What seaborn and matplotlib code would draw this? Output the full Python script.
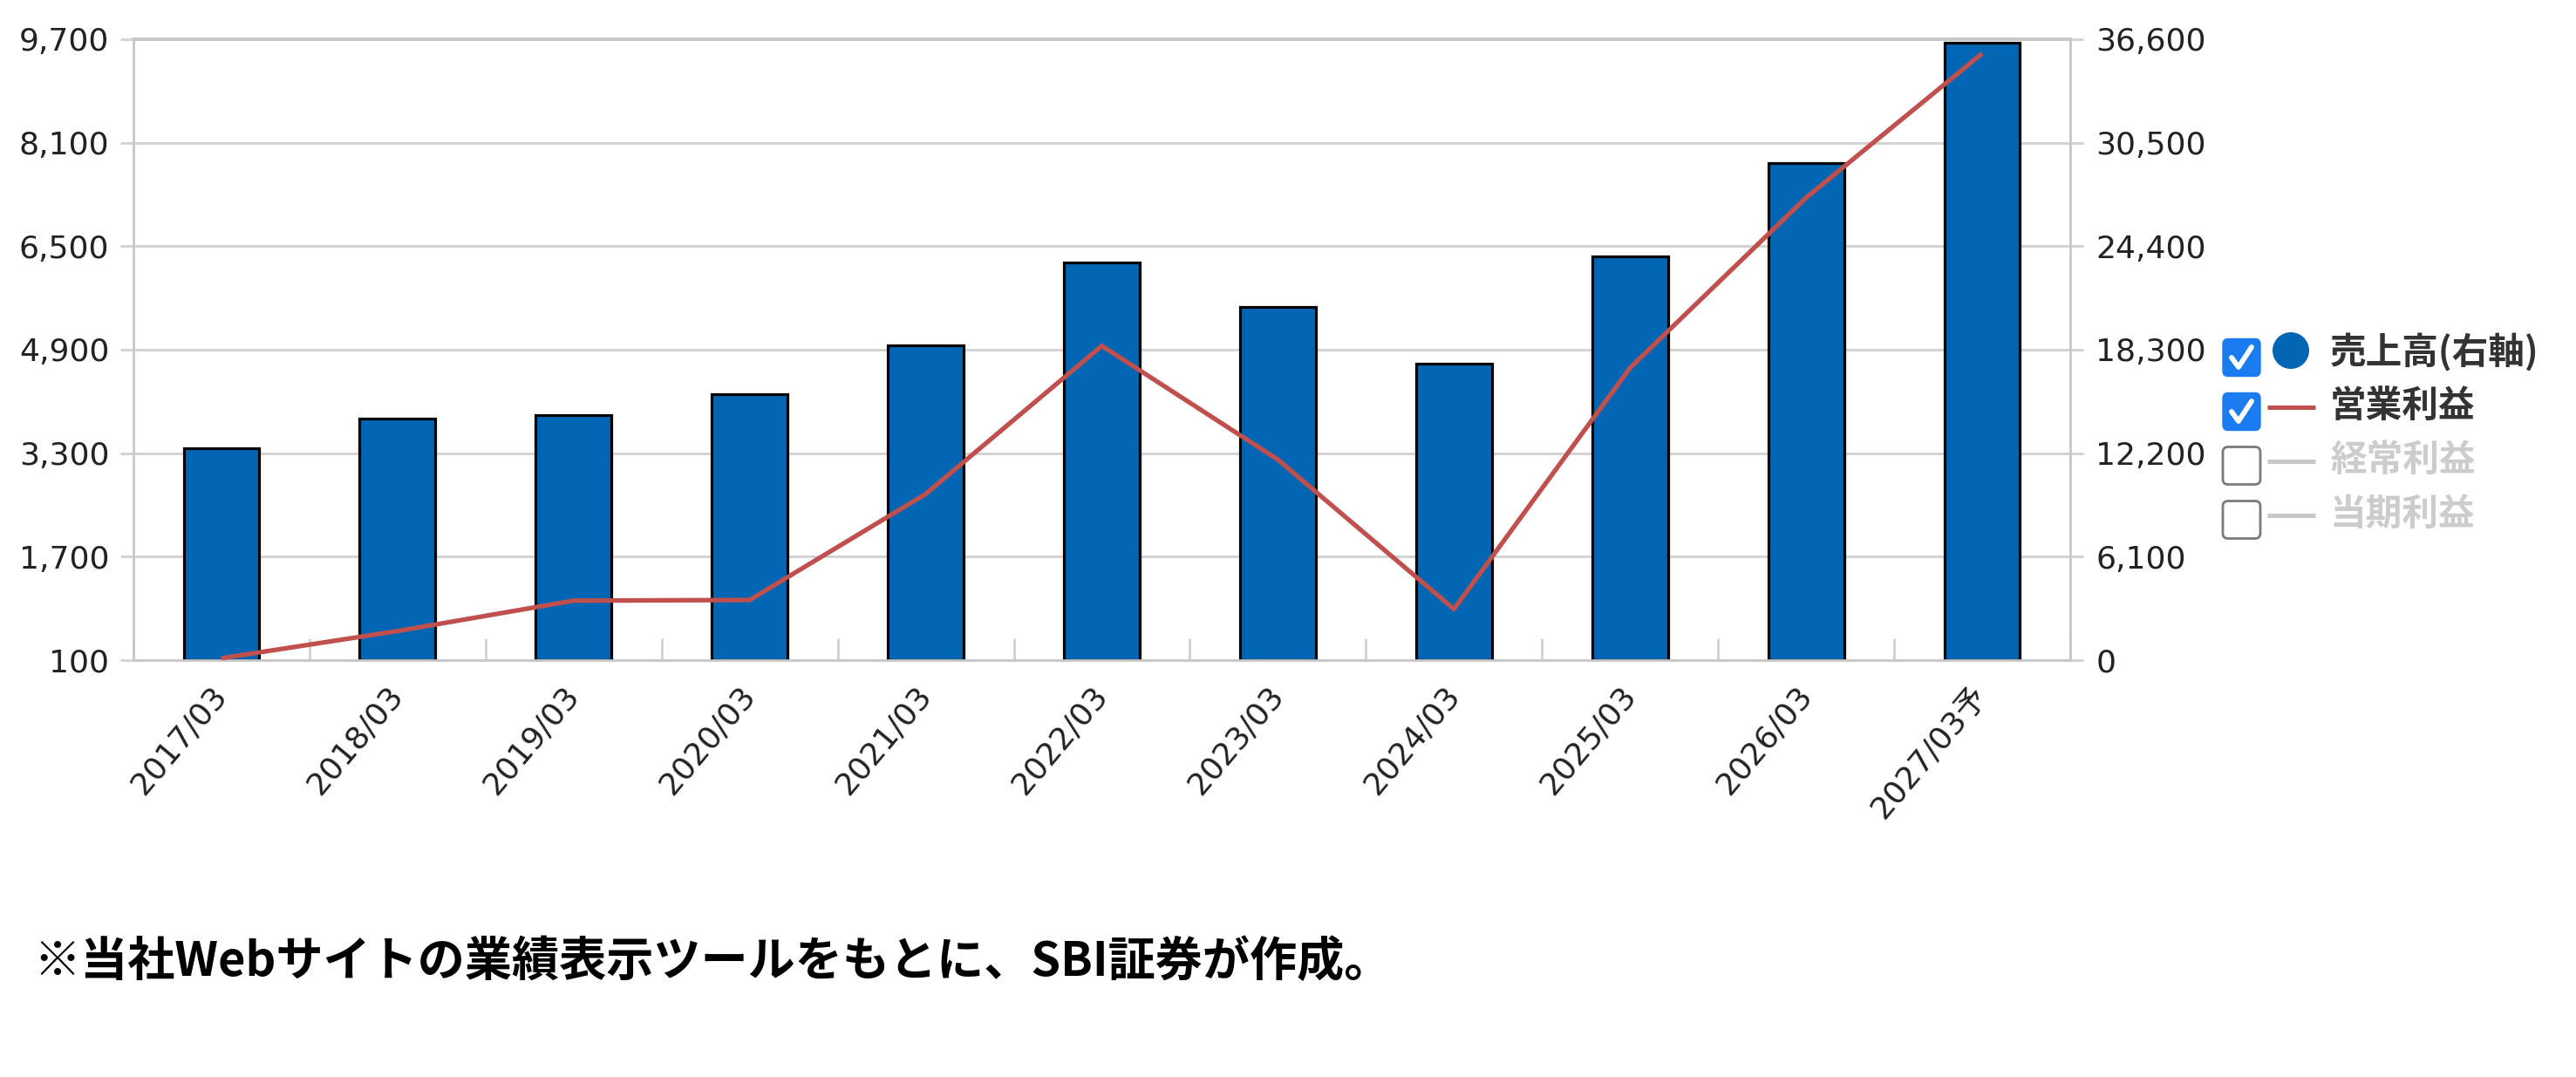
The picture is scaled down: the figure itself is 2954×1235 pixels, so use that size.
import numpy as np
import pandas as pd
import matplotlib
matplotlib.use('Agg')
import matplotlib.pyplot as plt
import seaborn as sns
from matplotlib.patches import FancyBboxPatch, Circle
from matplotlib.lines import Line2D

# ---------------- data ----------------
categories = ['2017/03', '2018/03', '2019/03', '2020/03', '2021/03', '2022/03',
              '2023/03', '2024/03', '2025/03', '2026/03', '2027/03予']
sales = [12500, 14260, 14450, 15700, 18540, 23460, 20830, 17460, 23800, 29290, 36380]
operating_profit = [130, 550, 1020, 1030, 2670, 4960, 3200, 890, 4620, 7250, 9480]
left_ticks = [100, 1700, 3300, 4900, 6500, 8100, 9700]
right_ticks = [0, 6100, 12200, 18300, 24400, 30500, 36600]
legend_labels = ['売上高(右軸)', '営業利益', '経常利益', '当期利益']
legend_active = [True, True, False, False]
footnote = '※当社Webサイトの業績表示ツールをもとに、SBI証券が作成。'

# ---------------- style ----------------
sns.set_theme(style='white')
plt.rcParams['font.family'] = ['DejaVu Sans', 'Noto Sans CJK JP']

BAR_C = '#0066B3'
LINE_C = '#C0504D'
GRID_C = '#d0d0d0'
W, H = 2954, 1235

fig = plt.figure(figsize=(W / 100, H / 100), dpi=100)
fig.patch.set_facecolor('white')
ax = fig.add_axes([153 / W, 1 - 757 / H, (2374 - 153) / W, (757 - 45) / H])
ax2 = ax.twinx()

df = pd.DataFrame({'period': categories, 'sales': sales, 'op': operating_profit,
                   'pos': np.arange(len(categories))})

sns.barplot(data=df, x='period', y='sales', ax=ax, color=BAR_C, saturation=1,
            edgecolor='black', linewidth=2.3, width=0.43, zorder=2)
sns.lineplot(data=df, x='pos', y='op', ax=ax2, color=LINE_C, linewidth=3.8,
             solid_capstyle='butt')

# axes arrangement: bars on right axis, line on left axis
ax.yaxis.tick_right()
ax2.yaxis.tick_left()
ax.set_ylim(right_ticks[0], right_ticks[-1])
ax2.set_ylim(left_ticks[0], left_ticks[-1])
ax.set_yticks(right_ticks)
ax.set_yticklabels([f'{v:,}' for v in right_ticks])
ax2.set_yticks(left_ticks)
ax2.set_yticklabels([f'{v:,}' for v in left_ticks])
ax.set_xlim(-0.5, len(categories) - 0.5)

ax.set_xlabel('')
ax.set_ylabel('')
ax2.set_xlabel('')
ax2.set_ylabel('')

ax.grid(axis='y', color=GRID_C, linewidth=2)
ax.grid(axis='x', visible=False)
ax.set_axisbelow(True)

ax.tick_params(axis='y', which='major', right=True, left=False, labelright=True,
               labelleft=False, length=11, width=2, color=GRID_C, pad=10,
               labelsize=26, labelcolor='#222222')
ax2.tick_params(axis='y', which='major', left=True, right=False, labelleft=True,
                labelright=False, length=11, width=2, color=GRID_C, pad=9,
                labelsize=26, labelcolor='#222222')
ax.tick_params(axis='x', which='major', length=0, pad=25, labelsize=26,
               labelcolor='#222222')
ax.set_xticks(np.arange(-0.5, len(categories), 1), minor=True)
ax.tick_params(axis='x', which='minor', bottom=True, direction='in', length=18,
               width=2, color=GRID_C)

for lbl in ax.get_xticklabels():
    lbl.set_rotation(50)
    lbl.set_ha('right')
    lbl.set_va('center')
    lbl.set_rotation_mode('anchor')

for s in ax.spines.values():
    s.set_color('#c8c8c8')
    s.set_linewidth(2)
ax.spines['top'].set_linewidth(2.8)
for s in ax2.spines.values():
    s.set_visible(False)

# ---------------- legend (checkbox style) ----------------
T = fig.dpi_scale_trans


def Y(px):
    return (H - px) / 100


row_y = [410, 472, 534, 596]
for i, (lab, act) in enumerate(zip(legend_labels, legend_active)):
    cy = row_y[i]
    if act:
        box = FancyBboxPatch((25.49, Y(cy) - 0.215), 0.43, 0.43,
                             boxstyle='round,pad=0,rounding_size=0.06',
                             fc='#1B7BF0', ec='#1B7BF0', lw=1, transform=T)
        fig.add_artist(box)
        fig.add_artist(Line2D([25.49 + 0.10, 25.49 + 0.18, 25.49 + 0.33],
                              [Y(cy) - 0.0, Y(cy) - 0.11, Y(cy) + 0.12],
                              color='white', lw=4.2, transform=T,
                              solid_capstyle='round', solid_joinstyle='round'))
        tcol = '#333333'
    else:
        box = FancyBboxPatch((25.49, Y(cy) - 0.215), 0.43, 0.43,
                             boxstyle='round,pad=0,rounding_size=0.06',
                             fc='white', ec='#7a7a7a', lw=2, transform=T)
        fig.add_artist(box)
        tcol = '#cccccc'
    if i == 0:
        fig.add_artist(Circle((26.27, Y(cy - 8)), 0.21, fc=BAR_C, ec='none',
                              transform=T))
    else:
        lc = LINE_C if act else '#c8c8c8'
        fig.add_artist(Line2D([26.00, 26.55], [Y(cy - 5)] * 2, color=lc, lw=3.6,
                              transform=T, solid_capstyle='butt'))
    fig.text(26.72, Y(cy - 6), lab, transform=T, fontsize=30, fontweight='bold',
             color=tcol, va='center', ha='left',
             family=['Noto Sans CJK JP', 'DejaVu Sans'])

# ---------------- footnote ----------------
fig.text(0.38, Y(1103), footnote, transform=T, fontsize=39, fontweight='bold',
         color='black', va='center', ha='left',
         family=['Noto Sans CJK JP', 'DejaVu Sans'])

fig.savefig('out.png', dpi=100, facecolor='white')
